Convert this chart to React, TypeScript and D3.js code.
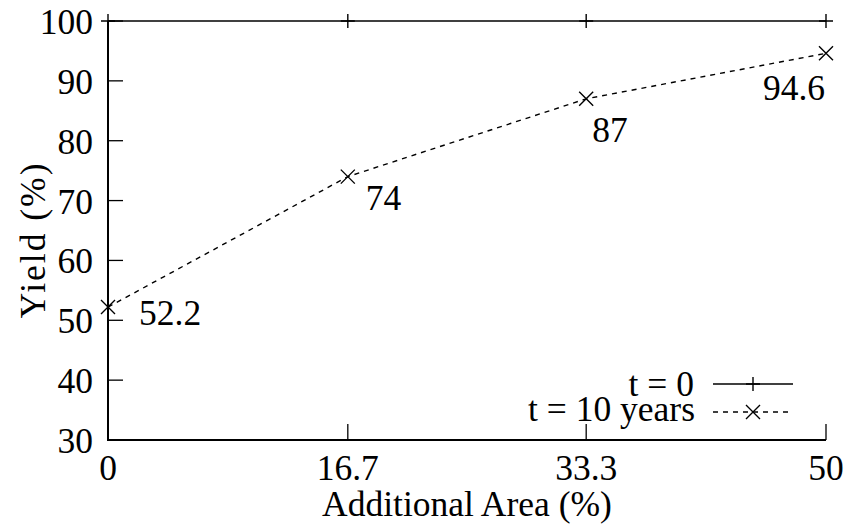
import React from "react";
import * as d3 from "d3";

const xValues = [0, 16.7, 33.3, 50];
const xTickLabels = ["0", "16.7", "33.3", "50"];
const yTicks = [30, 40, 50, 60, 70, 80, 90, 100];
const yieldT0 = [100, 100, 100, 100];
const yieldT10 = [52.2, 74, 87, 94.6];
const pointLabels = ["52.2", "74", "87", "94.6"];
const seriesNames = ["t = 0", "t = 10 years"];

// label placement (layout, not data)
const labelOffsets = [
  { dx: 31, dy: 18, anchor: "start" },
  { dx: 18, dy: 33, anchor: "start" },
  { dx: 6, dy: 43, anchor: "start" },
  { dx: -1, dy: 47, anchor: "end" },
];

const W = 846;
const H = 526;
const M = { left: 108, right: 826, top: 21, bottom: 440 };
const FS = 35.5;
const textStyle: React.CSSProperties = { fontFamily: '"Liberation Serif"', fontSize: FS };

export default function App() {
  const x = d3.scaleLinear().domain([0, 50]).range([M.left, M.right]);
  const y = d3.scaleLinear().domain([30, 100]).range([M.bottom, M.top]);
  const line = d3
    .line<number>()
    .x((_, i) => x(xValues[i]))
    .y((d) => y(d));

  const plus = (cx: number, cy: number, s = 7) =>
    `M${cx - s},${cy}H${cx + s}M${cx},${cy - s}V${cy + s}`;
  const cross = (cx: number, cy: number, s = 7) =>
    `M${cx - s},${cy - s}L${cx + s},${cy + s}M${cx - s},${cy + s}L${cx + s},${cy - s}`;

  const legX1 = 713;
  const legX2 = 793;
  const legMid = (legX1 + legX2) / 2;
  const legRows = [384, 412];

  return (
    <svg width={W} height={H} style={{ position: "absolute", left: 0, top: 0, background: "#fff" }}>
      <rect width={W} height={H} fill="#fff" />
      {/* y ticks */}
      {yTicks.map((t) => (
        <g key={"y" + t}>
          <line x1={M.left} x2={M.left + 15} y1={y(t)} y2={y(t)} stroke="#000" strokeWidth={1.3} />
          <text x={M.left - 15} y={y(t) + 13} textAnchor="end" style={textStyle}>
            {t}
          </text>
        </g>
      ))}
      {/* x ticks */}
      {xValues.map((v, i) => (
        <g key={"x" + i}>
          <line x1={x(v)} x2={x(v)} y1={M.bottom} y2={M.bottom - 16} stroke="#000" strokeWidth={1.3} />
          <text x={x(v)} y={M.bottom + 40} textAnchor="middle" style={textStyle}>
            {xTickLabels[i]}
          </text>
        </g>
      ))}
      {/* axes */}
      <path d={`M${M.left},${M.top}V${M.bottom}H${M.right}`} fill="none" stroke="#000" strokeWidth={2} />
      {/* series t=0 */}
      <path d={line(yieldT0) || ""} fill="none" stroke="#000" strokeWidth={1.4} />
      {yieldT0.map((v, i) => (
        <path key={"p0" + i} d={plus(x(xValues[i]), y(v))} stroke="#000" strokeWidth={1.4} />
      ))}
      {/* series t=10 */}
      <path d={line(yieldT10) || ""} fill="none" stroke="#000" strokeWidth={1.4} strokeDasharray="5,5" />
      {yieldT10.map((v, i) => (
        <path key={"p1" + i} d={cross(x(xValues[i]), y(v))} stroke="#000" strokeWidth={1.4} />
      ))}
      {/* point labels */}
      {yieldT10.map((v, i) => (
        <text
          key={"l" + i}
          x={x(xValues[i]) + labelOffsets[i].dx}
          y={y(v) + labelOffsets[i].dy}
          textAnchor={labelOffsets[i].anchor as any}
          style={textStyle}
        >
          {pointLabels[i]}
        </text>
      ))}
      {/* legend */}
      <text x={694} y={legRows[0] + 12} textAnchor="end" style={textStyle}>
        {seriesNames[0]}
      </text>
      <line x1={legX1} x2={legX2} y1={legRows[0]} y2={legRows[0]} stroke="#000" strokeWidth={1.4} />
      <path d={plus(legMid, legRows[0])} stroke="#000" strokeWidth={1.4} />
      <text x={695} y={legRows[1] + 9} textAnchor="end" style={textStyle}>
        {seriesNames[1]}
      </text>
      <line x1={legX1} x2={legX2} y1={legRows[1]} y2={legRows[1]} stroke="#000" strokeWidth={1.4} strokeDasharray="5,5" />
      <path d={cross(legMid, legRows[1])} stroke="#000" strokeWidth={1.4} />
      {/* axis titles */}
      <text x={(M.left + M.right) / 2} y={516} textAnchor="middle" style={textStyle}>
        Additional Area (%)
      </text>
      <text transform={`translate(45,240) rotate(-90)`} textAnchor="middle" style={{ ...textStyle, letterSpacing: 2 }}>
        Yield (%)
      </text>
    </svg>
  );
}
